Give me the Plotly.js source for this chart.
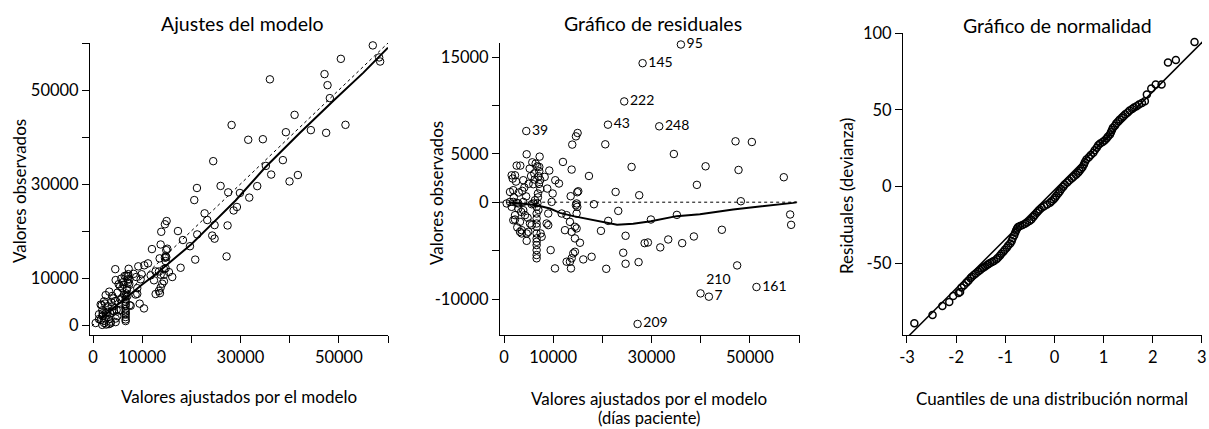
<!DOCTYPE html>
<html><head><meta charset="utf-8">
<script src="https://cdn.plot.ly/plotly-3.0.1.min.js"></script>
<style>html,body{margin:0;padding:0;background:#fff}#chart{width:1209px;height:429px}</style>
</head><body><div id="chart"></div>
<script>
// ---- Data ----
// Fitted values (días paciente) and residuals (observed - fitted)
const fitted = [35980, 28190, 24450, 21140, 31570, 4530, 39970, 41670, 51350, 27170,
20600, 47090, 50410, 34550, 25950, 41000, 47700, 56910, 39230, 22700,
27500, 48170, 21200, 23240, 19720, 29880, 35160, 58200, 58400, 24730,
28600, 29270, 33400, 31780, 36240, 38620, 44310, 24250, 20790, 24730,
27370, 47420, 17280, 18290, 14970, 14630, 13880, 4610, 7250, 5750,
6440, 6770, 2580, 3310, 11990, 13760, 9210, 5220, 2240, 1770,
2440, 3920, 4130, 3720, 7180, 7180, 7050, 7380, 7110, 7380,
6160, 6240, 5960, 8270, 10430, 11180, 8800, 1890, 9900, 15100,
14900, 13560, 14770, 14900, 9690, 1890, 2910, 550, 6300, 5630,
1220, 2580, 3920, 5960, 1560, 2910, 3920, 1890, 3250, 2240,
3250, 3600, 4940, 4610, 5280, 5630, 6640, 6640, 6640, 6640,
6640, 6640, 6640, 6640, 6640, 6640, 6640, 6640, 7450, 7660,
8670, 9000, 9000, 9490, 11730, 12740, 13410, 12400, 13760, 14430,
14770, 14430, 15450, 14770, 14630, 12740, 13410, 13760, 14080, 14430,
10370, 13620, 16120, 17820, 2240, 4270, 4610, 3600, 1220, 1560,
6900, 6900, 6800, 7000, 3000, 4500, 2000, 5000, 5500, 3500,
4800, 2700];
const residual = [16290, 14360, 10410, 8010, 7840, 7350, -9420, -9760, -8760, -12580,
5980, 6290, 6220, 4980, 3640, 3710, 3330, 2580, 1790, 1060,
720, 100, -1930, -900, -2960, -1790, -1310, -1270, -2340, -3470,
-4230, -4160, -3850, -4670, -4230, -3540, -2850, -5220, -6880, -6360,
-6190, -6530, 2710, -210, 7150, 6800, 5950, 4950, 4710, 4120,
3990, 3710, 3780, 3780, 4160, 3370, 3270, 3470, 2780, 2440,
2130, 2270, 1520, 1170, 3640, 3200, 2680, 2300, 1890, 1370,
2960, 2340, 1860, 2610, 2270, 1930, 1410, 1240, 900, 1130,
1030, 620, -130, -480, 30, 30, -130, -130, 200, -210,
30, -70, 30, -130, -480, -650, -820, -1860, -2030, -1790,
-3060, -2890, -3060, -3990, -2200, -2370, -480, -1170, -1680, -2200,
-2540, -3230, -3740, -4090, -4430, -4950, -5460, -5800, -3230, -3570,
-2200, -2370, -1170, -4950, -1170, -1340, -2030, -2890, -3060, -2540,
-2710, -3740, -4190, -1170, -310, -6150, -6150, -5800, -5290, -5120,
-6840, -6840, -5910, -5640, -1340, -1340, -3230, -3230, 1060, 2780,
900, 500, -100, -800, 1000, 600, 500, 1900, 2700, -1000,
-1600, -2600];
// Case numbers shown next to the first points
const caseLabels = ['95', '145', '222', '43', '248', '39', '210', '7', '161', '209'];
const caseLabelPos = ['middle right', 'middle right', 'middle right', 'middle right', 'middle right',
  'middle right', 'top right', 'middle right', 'middle right', 'middle right'];

// Smoother in "Ajustes del modelo" (fitted vs observed)
const fitLineX = [1500, 6000, 10000, 13000, 16000, 20000, 24000, 29000, 35000, 42000, 49000, 55000, 60000];
const fitLineY = [1300, 5200, 8600, 11000, 13600, 17200, 21300, 26500, 33500, 40800, 47800, 53700, 59000];
// Identity reference line
const identX = [-2000, 62000];
const identY = [-2000, 62000];

// Smoother in "Gráfico de residuales"
const resLineX = [1000, 3250, 6640, 9350, 11380, 14080, 17480, 20870, 23000, 26280, 29880, 35100, 39840, 46610, 53390, 58800, 59500];
const resLineY = [0, -130, -310, -650, -1100, -1440, -1790, -2130, -2320, -2230, -1960, -1440, -1240, -750, -410, -70, 0];
const zeroX = [-2000, 62000];
const zeroY = [0, 0];

// Normal QQ plot of deviance residuals
const qqX = [-2.85, -2.48, -2.28, -2.14, -2.06, -1.95, -1.92, -1.89, -1.84, -1.79,
-1.75, -1.71, -1.68, -1.64, -1.60, -1.55, -1.51, -1.48, -1.45, -1.41,
-1.37, -1.34, -1.31, -1.27, -1.23, -1.18, -1.15, -1.11, -1.08, -1.04,
-1.01, -0.97, -0.94, -0.90, -0.87, -0.85, -0.82, -0.80, -0.78, -0.76,
-0.74, -0.70, -0.65, -0.60, -0.56, -0.51, -0.47, -0.43, -0.40, -0.36,
-0.33, -0.30, -0.26, -0.21, -0.15, -0.09, -0.06, -0.02, 0.01, 0.04,
0.08, 0.11, 0.14, 0.18, 0.21, 0.26, 0.30, 0.35, 0.39, 0.44,
0.48, 0.51, 0.54, 0.57, 0.60, 0.62, 0.65, 0.70, 0.74, 0.79,
0.82, 0.86, 0.89, 0.93, 0.98, 1.02, 1.06, 1.09, 1.13, 1.15,
1.17, 1.19, 1.23, 1.26, 1.30, 1.33, 1.37, 1.40, 1.44, 1.49,
1.53, 1.58, 1.62, 1.67, 1.72, 1.78, 1.84, 1.88, 1.97, 2.06,
2.18, 2.31, 2.47, 2.85];
const qqY = [-89.3, -83.9, -78, -75.4, -71.5, -69.5, -68.9, -66, -64.5, -62.8,
-61.5, -60, -58.9, -57.8, -56.8, -55.6, -54.5, -53.6, -53, -52.2,
-51.3, -50.6, -50, -49.3, -48.6, -47.6, -46.5, -45.2, -43.9, -42.6,
-41.3, -40, -38.6, -37.2, -35.7, -33.8, -32, -30.2, -28.8, -27.5,
-26.5, -25.8, -25.1, -24.3, -23.5, -22.5, -21.5, -20, -18.6, -17.2,
-16.1, -15, -13.9, -13, -11.8, -10.6, -9.6, -8.5, -7.4, -6,
-4.5, -3.1, -1.7, -0.2, 1.3, 2.6, 3.9, 5.2, 6.4, 7.7,
8.9, 10.1, 11.4, 12.6, 14.3, 16, 17.6, 19.1, 20.5, 22,
23.6, 25.3, 26.9, 28, 29, 30, 31.3, 32.6, 33.9, 35.4,
36.8, 38.3, 39.7, 41.2, 42.6, 43.7, 44.8, 45.8, 47.1, 48.3,
49.6, 50.5, 51.5, 52.4, 53.5, 54.5, 55.6, 60, 63.9, 66.5,
66.5, 81, 82.6, 94.3];
const qqLineX = [-3.2, 3.2];
const qqLineY = [-105.2, 100.4];

// Tick labels
const tickVals1X = [0, 10000, 20000, 30000, 40000, 50000, 60000];
const tickText1X = ['0', '10000', '', '30000', '', '50000', ''];
const tickVals1Y = [0, 10000, 20000, 30000, 40000, 50000, 60000];
const tickText1Y = ['0', '10000', '', '30000', '', '50000', ''];
const tickVals2Y = [-10000, -5000, 0, 5000, 10000, 15000];
const tickText2Y = ['-10000', '', '0', '5000', '', '15000'];
const tickVals3X = [-3, -2, -1, 0, 1, 2, 3];
const tickText3X = ['-3', '-2', '-1', '0', '1', '2', '3'];
const tickVals3Y = [-50, 0, 50, 100];
const tickText3Y = ['-50', '0', '50', '100'];

// ---- Drawing ----
const observed = fitted.map((f, i) => f + residual[i]);
const W = 1209, H = 429;
const FONT = 'Lato, "Open Sans", sans-serif';
const dx = (a, b) => [a / W, b / W];
const dy = (top, bottom) => [(H - bottom) / H, (H - top) / H];

const marker = {symbol: 'circle-open', size: 7.5, color: '#000', line: {width: 1, color: '#000'}};
const pointText = fitted.map((_, i) => caseLabels[i] || '');
const pointTextPos = fitted.map((_, i) => caseLabelPos[i] || 'middle right');

const traces = [
  {x: identX, y: identY, mode: 'lines', line: {color: '#000', width: 1, dash: 'dot'}, xaxis: 'x', yaxis: 'y', hoverinfo: 'skip'},
  {x: fitted, y: observed, mode: 'markers', marker: marker, xaxis: 'x', yaxis: 'y', cliponaxis: false},
  {x: fitLineX, y: fitLineY, mode: 'lines', line: {color: '#000', width: 2}, xaxis: 'x', yaxis: 'y'},

  {x: zeroX, y: zeroY, mode: 'lines', line: {color: '#000', width: 1, dash: 'dot'}, xaxis: 'x2', yaxis: 'y2'},
  {x: fitted, y: residual, mode: 'markers+text', marker: marker, text: pointText, textposition: pointTextPos,
   textfont: {family: FONT, size: 14, color: '#000'}, xaxis: 'x2', yaxis: 'y2', cliponaxis: false},
  {x: resLineX, y: resLineY, mode: 'lines', line: {color: '#000', width: 2}, xaxis: 'x2', yaxis: 'y2'},

  {x: qqX, y: qqY, mode: 'markers', marker: {symbol: 'circle-open', size: 7, color: '#000', line: {width: 1.5, color: '#000'}}, xaxis: 'x3', yaxis: 'y3', cliponaxis: false},
  {x: qqLineX, y: qqLineY, mode: 'lines', line: {color: '#000', width: 1.5}, xaxis: 'x3', yaxis: 'y3'}
];

const axBase = {
  showline: true, linecolor: '#000', linewidth: 1, ticks: 'outside', ticklen: 7, tickwidth: 1,
  tickcolor: '#000', showgrid: false, zeroline: false, tickmode: 'array',
  tickfont: {family: FONT, size: 16.5, color: '#000'}, fixedrange: true
};
const ax = (o) => Object.assign({}, axBase, o);

const ann = (text, x, y, size, angle) => ({
  text: text, x: x / W, y: 1 - y / H, xref: 'paper', yref: 'paper', showarrow: false,
  xanchor: 'center', yanchor: 'middle', textangle: angle || 0, borderpad: 0,
  font: {family: FONT, size: size, color: '#000'}
});

const layout = {
  width: W, height: H, margin: {l: 0, r: 0, t: 0, b: 0},
  paper_bgcolor: '#fff', plot_bgcolor: '#fff', showlegend: false, hovermode: false,
  xaxis: ax({domain: dx(90, 388), range: [-610, 60000], tickvals: tickVals1X, ticktext: tickText1X, anchor: 'y'}),
  yaxis: ax({domain: dy(43, 335), range: [-2128, 60000], tickvals: tickVals1Y, ticktext: tickText1Y, anchor: 'x'}),
  xaxis2: ax({domain: dx(500, 800), range: [-813, 60203], tickvals: tickVals1X, ticktext: tickText1X, anchor: 'y2'}),
  yaxis2: ax({domain: dy(43, 335), range: [-13719, 16446], tickvals: tickVals2Y, ticktext: tickText2Y, anchor: 'x2'}),
  xaxis3: ax({domain: dx(903, 1202), range: [-3.081, 3.002], tickvals: tickVals3X, ticktext: tickText3X, anchor: 'y3'}),
  yaxis3: ax({domain: dy(33, 335), range: [-97, 100.2], tickvals: tickVals3Y, ticktext: tickText3Y, anchor: 'x3'}),
  annotations: [
    ann('Ajustes del modelo', 242, 24, 19.5),
    ann('Gráfico de residuales', 653, 24, 19.5),
    ann('Gráfico de normalidad', 1057, 25, 19.5),
    ann('Valores ajustados por el modelo', 239, 396, 17),
    ann('Valores ajustados por el modelo', 649, 398, 17),
    ann('(días paciente)', 649, 418, 16.5),
    ann('Cuantiles de una distribución normal', 1052, 398, 17),
    ann('Valores observados', 19, 191, 17, -90),
    ann('Valores observados', 436, 193, 17, -90),
    ann('Residuales (devianza)', 846, 196, 17, -90)
  ]
};

Plotly.newPlot('chart', traces, layout, {staticPlot: true, displayModeBar: false});
</script></body></html>
